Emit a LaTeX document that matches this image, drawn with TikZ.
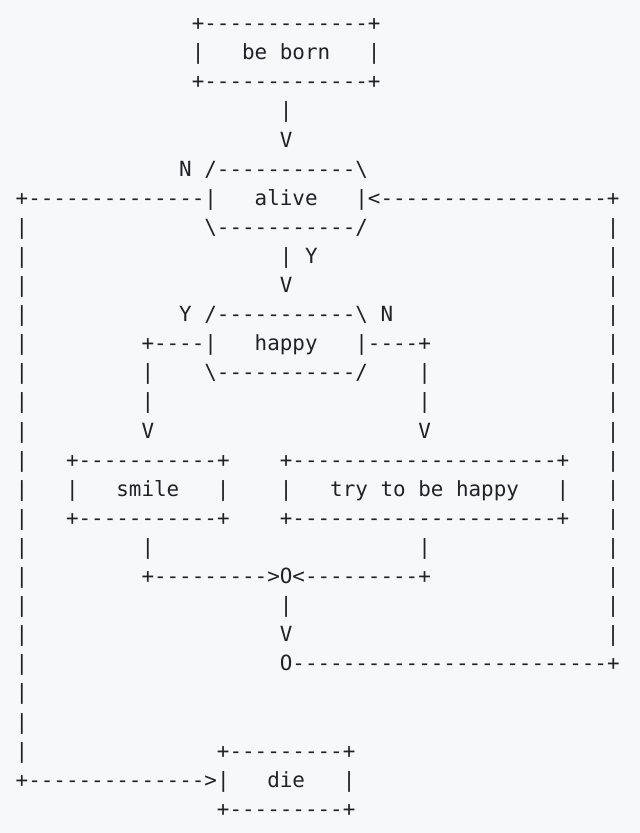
\documentclass[tikz,border=0pt]{standalone}
\usepackage{fontspec}
\setmonofont{DejaVu Sans Mono}
\definecolor{bg}{HTML}{F6F8FA}
\definecolor{ink}{HTML}{1F2328}
\newcommand\bs{\textbackslash}
\ExplSyntaxOn
\cs_new:Npn \dd #1 {\prg_replicate:nn{#1}{-}}
\ExplSyntaxOff
\newcommand\seg[4]{\node[asc] (#1) at ({15.7pt+#3*12.58pt},{802.3pt-#2*29.1pt}) {#4};}
\tikzset{asc/.style={anchor=base west, inner sep=0pt, outer sep=0pt, text=ink,
  font=\ttfamily\fontsize{20.9pt}{29.1pt}\selectfont}}
\begin{document}
\begin{tikzpicture}
\fill[bg] (0,0) rectangle (640pt,833pt);
\useasboundingbox (0,0) rectangle (640pt,833pt);
% be born
\seg{bornTop}{0}{14}{+\dd{13}+}
\seg{bornL}{1}{14}{|}
\seg{born}{1}{18}{be born}
\seg{bornR}{1}{28}{|}
\seg{bornBot}{2}{14}{+\dd{13}+}
\seg{a1}{3}{21}{|}
\seg{a2}{4}{21}{V}
% alive
\seg{aliveN}{5}{13}{N}
\seg{aliveTop}{5}{15}{/\dd{11}\bs}
\seg{aliveL}{6}{0}{+\dd{14}|}
\seg{alive}{6}{19}{alive}
\seg{aliveR}{6}{27}{|<\dd{18}+}
\seg{aliveBot}{7}{15}{\bs\dd{11}/}
\seg{b1}{8}{21}{|}
\seg{aliveY}{8}{23}{Y}
\seg{b2}{9}{21}{V}
% happy
\seg{happyY}{10}{13}{Y}
\seg{happyTop}{10}{15}{/\dd{11}\bs}
\seg{happyN}{10}{29}{N}
\seg{happyL}{11}{10}{+\dd{4}|}
\seg{happy}{11}{19}{happy}
\seg{happyR}{11}{27}{|\dd{4}+}
\seg{happyBot}{12}{15}{\bs\dd{11}/}
\seg{c1}{12}{10}{|}
\seg{d1}{12}{32}{|}
\seg{c2}{13}{10}{|}
\seg{d2}{13}{32}{|}
\seg{c3}{14}{10}{V}
\seg{d3}{14}{32}{V}
% smile / try
\seg{smileTop}{15}{4}{+\dd{11}+}
\seg{smileL}{16}{4}{|}
\seg{smile}{16}{8}{smile}
\seg{smileR}{16}{16}{|}
\seg{smileBot}{17}{4}{+\dd{11}+}
\seg{tryTop}{15}{21}{+\dd{21}+}
\seg{tryL}{16}{21}{|}
\seg{try}{16}{25}{try to be happy}
\seg{tryR}{16}{43}{|}
\seg{tryBot}{17}{21}{+\dd{21}+}
\seg{e1}{18}{10}{|}
\seg{f1}{18}{32}{|}
\seg{join}{19}{10}{+\dd{9}>O<\dd{9}+}
\seg{g1}{20}{21}{|}
\seg{g2}{21}{21}{V}
\seg{back}{22}{21}{O\dd{25}+}
% left loop
\foreach \r in {7,...,25} {\seg{left\r}{\r}{0}{|}}
% right loop
\foreach \r in {7,...,21} {\seg{right\r}{\r}{47}{|}}
% die
\seg{dieTop}{25}{16}{+\dd{9}+}
\seg{dieIn}{26}{0}{+\dd{14}>|}
\seg{die}{26}{20}{die}
\seg{dieR}{26}{26}{|}
\seg{dieBot}{27}{16}{+\dd{9}+}
\end{tikzpicture}
\end{document}
